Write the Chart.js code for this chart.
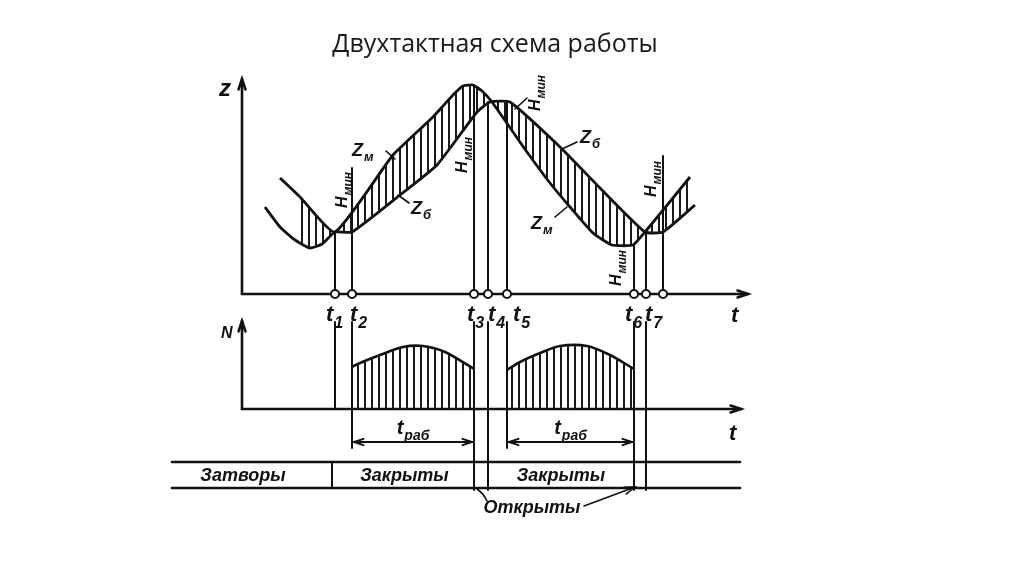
<!DOCTYPE html>
<html>
<head>
<meta charset="utf-8">
<script src="https://cdn.jsdelivr.net/npm/chart.js@4.4.0/dist/chart.umd.min.js"></script>
<style>
  html, body { margin: 0; background: #fff; }
  #wrap { width: 1024px; height: 574px; position: relative; }
</style>
</head>
<body>
<div id="wrap"><canvas id="scheme"></canvas></div>
<script>
// ===== DATA =====
const titleText = 'Двухтактная схема работы';
// moments t1..t7 (+ one unlabeled mark) on the time axis
const tMarks = [95, 112, 234, 248, 267, 394, 406, 423];
const tNames = ['1', '2', '3', '4', '5', '6', '7'];
// level z_м
const zmX = [40, 60, 95, 153, 193, 213, 223, 233, 242, 252, 287, 310, 330, 353, 372, 393, 405, 450];
const zmY = [116, 97, 62, 139, 177, 199, 208, 209, 203, 192, 142, 111, 87, 61, 49, 49, 62, 117];
// level z_б
const zbX = [25, 40, 55, 70, 82, 95, 112, 160, 197, 237, 250, 270, 320, 360, 405, 423, 455];
const zbY = [87, 67, 54, 46, 50, 62, 62, 99, 129, 182, 192, 192, 147, 106, 62, 62, 89];
// power N, two working strokes
const n1X = [112, 120, 140, 163, 183, 205, 234];
const n1Y = [42, 46, 54, 62, 63, 57, 40];
const n2X = [267, 280, 300, 320, 347, 370, 394];
const n2Y = [39, 47, 56, 63, 63, 54, 40];
// z where the vertical mark lines meet the curves
const markTop = [62, 126, 209, 192, 191, 49, 62, 138];
// gates row
const gateLabel = 'Затворы';
const gateStates = ['Закрыты', 'Открыты', 'Закрыты', 'Открыты'];
const gateFrom = [0, 2, 3, 5];   // index into tMarks
const gateTo = [2, 3, 5, 6];
const workLabel = ['t', 'раб'];
const workFrom = [1, 4];
const workTo = [2, 5];

const pts = (xs, ys) => xs.map((x, i) => ({ x: x, y: ys[i] }));

// ===== HATCH PATTERN =====
function makeHatch(step) {
    const c = document.createElement('canvas');
    c.width = step;
    c.height = 8;
    const g = c.getContext('2d');
    g.fillStyle = '#1a1a1a';
    g.fillRect(0, 0, 2, 8);
    return g.createPattern(c, 'repeat');
}
const hatch = makeHatch(7);

// ===== DRAW HELPERS =====
const FONT = '"Liberation Sans", sans-serif';

function seg(ctx, x1, y1, x2, y2) {
    ctx.beginPath();
    ctx.moveTo(x1, y1);
    ctx.lineTo(x2, y2);
    ctx.stroke();
}

function head(ctx, x1, y1, x2, y2, len) {
    const a = Math.atan2(y2 - y1, x2 - x1);
    ctx.beginPath();
    ctx.moveTo(x2 - len * Math.cos(a - 0.32), y2 - len * Math.sin(a - 0.32));
    ctx.lineTo(x2, y2);
    ctx.lineTo(x2 - len * Math.cos(a + 0.32), y2 - len * Math.sin(a + 0.32));
    ctx.stroke();
}

function arrow(ctx, x1, y1, x2, y2) {
    seg(ctx, x1, y1, x2, y2);
    head(ctx, x1, y1, x2, y2, 11);
}

function subText(ctx, main, sub, x, y, size, align) {
    ctx.font = 'italic bold ' + size + 'px ' + FONT;
    const w1 = ctx.measureText(main).width;
    const subSize = Math.round(size * 0.72);
    ctx.font = 'italic bold ' + subSize + 'px ' + FONT;
    const w2 = sub ? ctx.measureText(sub).width : 0;
    let x0 = x;
    if (align === 'center') x0 = x - (w1 + w2 + 1) / 2;
    ctx.textAlign = 'left';
    ctx.textBaseline = 'alphabetic';
    ctx.font = 'italic bold ' + size + 'px ' + FONT;
    ctx.fillText(main, x0, y);
    if (sub) {
        ctx.font = 'italic bold ' + subSize + 'px ' + FONT;
        ctx.fillText(sub, x0 + w1 + 1, y + size * 0.3);
    }
}

function rotText(ctx, main, sub, cx, cy, size) {
    ctx.save();
    ctx.translate(cx, cy);
    ctx.rotate(-Math.PI / 2);
    subText(ctx, main, sub, 0, 4, size, 'center');
    ctx.restore();
}

// ===== DECORATION PLUGIN =====
const schemeDecor = {
    id: 'schemeDecor',
    beforeDatasetsDraw(chart) {
        const { ctx, scales: { x, yz, yN } } = chart;
        const px = v => x.getPixelForValue(v);
        const pz = v => yz.getPixelForValue(v);
        const pn = v => yN.getPixelForValue(v);
        ctx.save();
        ctx.strokeStyle = '#111';
        ctx.lineCap = 'round';
        ctx.lineWidth = 2.6;
        // axes
        arrow(ctx, px(2), pz(0), px(2), pz(215));
        arrow(ctx, px(2), pz(0), px(508), pz(0));
        arrow(ctx, px(2), pn(0), px(2), pn(88));
        arrow(ctx, px(2), pn(0), px(501), pn(0));
        // vertical marks, upper panel
        ctx.lineWidth = 2;
        tMarks.forEach((t, i) => seg(ctx, px(t), pz(0), px(t), pz(markTop[i])));
        // vertical marks, lower panel
        const lowEnd = [0, -39, -81, -81, -39, -81, -81];
        tNames.forEach((n, i) => seg(ctx, px(tMarks[i]), pn(87), px(tMarks[i]), pn(lowEnd[i])));
        ctx.restore();
    },
    afterDraw(chart) {
        const { ctx, scales: { x, yz, yN } } = chart;
        const px = v => x.getPixelForValue(v);
        ctx.save();
        ctx.fillStyle = '#111';
        ctx.strokeStyle = '#111';
        ctx.lineCap = 'round';

        // axis names
        subText(ctx, 'z', '', 219, 96, 24, 'left');
        subText(ctx, 't', '', 731, 322, 22, 'left');
        subText(ctx, 'N', '', 221, 338, 16, 'left');
        subText(ctx, 't', '', 729, 440, 22, 'left');

        // moment labels
        const dx = [-9, -2, -7, 0, 6, -9, -1];
        tNames.forEach((n, i) => subText(ctx, 't', n, px(tMarks[i]) + dx[i], 321, 22, 'left'));

        // curve labels + leaders
        ctx.lineWidth = 1.6;
        subText(ctx, 'Z', 'м', 352, 156, 18, 'left');
        seg(ctx, 386, 151, 395, 159);
        subText(ctx, 'Z', 'б', 411, 214, 18, 'left');
        seg(ctx, 409, 203, 398, 195);
        subText(ctx, 'Z', 'б', 580, 143, 18, 'left');
        seg(ctx, 577, 142, 562, 149);
        subText(ctx, 'Z', 'м', 531, 229, 18, 'left');
        seg(ctx, 555, 217, 567, 207);

        // H_мин labels
        rotText(ctx, 'H', 'мин', 343, 190, 16);
        rotText(ctx, 'H', 'мин', 463, 155, 16);
        rotText(ctx, 'H', 'мин', 536, 93, 16);
        seg(ctx, 527, 98, 515, 109);
        rotText(ctx, 'H', 'мин', 617, 268, 16);
        rotText(ctx, 'H', 'мин', 652, 179, 16);

        // working time arrows
        ctx.lineWidth = 2;
        workFrom.forEach((f, i) => {
            const a = px(tMarks[f]) + 2, b = px(tMarks[workTo[i]]) - 2;
            seg(ctx, a, 442, b, 442);
            head(ctx, b, 442, a, 442, 10);
            head(ctx, a, 442, b, 442, 10);
            subText(ctx, workLabel[0], workLabel[1], (a + b) / 2, 434, 20, 'center');
        });

        // gates row
        ctx.lineWidth = 2.6;
        seg(ctx, px(-68), 462, px(500), 462);
        seg(ctx, px(-68), 488, px(500), 488);
        ctx.lineWidth = 2;
        seg(ctx, px(tMarks[0]) - 3, 462, px(tMarks[0]) - 3, 488);
        ctx.font = 'italic bold 18px ' + FONT;
        ctx.textAlign = 'center';
        ctx.textBaseline = 'middle';
        ctx.fillText(gateLabel, 243, 476);
        gateStates.forEach((s, i) => {
            if (s === 'Закрыты') {
                ctx.fillText(s, (px(tMarks[gateFrom[i]]) + px(tMarks[gateTo[i]])) / 2, 476);
            }
        });
        ctx.fillText(gateStates[1], 532, 508);
        ctx.lineWidth = 1.6;
        ctx.beginPath();
        ctx.moveTo(px(tMarks[2]) + 3, 489);
        ctx.quadraticCurveTo(px(tMarks[2]) + 10, 494, 487, 501);
        ctx.stroke();
        const oc = (px(tMarks[gateFrom[3]]) + px(tMarks[gateTo[3]])) / 2 - 5;
        arrow(ctx, 584, 506, oc, 487);
        ctx.restore();
    }
};

// ===== CHART =====
const ctx = document.getElementById('scheme');
new Chart(ctx, {
    type: 'line',
    data: {
        datasets: [
            {
                label: 'z_м',
                data: pts(zmX, zmY),
                yAxisID: 'yz',
                borderColor: '#111',
                borderWidth: 2.8,
                backgroundColor: hatch,
                fill: '+1',
                tension: 0.15,
                pointRadius: 0,
                segment: {
                    backgroundColor: c => c.p0.parsed.x < 60 ? 'rgba(0,0,0,0)' : undefined
                }
            },
            {
                label: 'z_б',
                data: pts(zbX, zbY),
                yAxisID: 'yz',
                borderColor: '#111',
                borderWidth: 2.8,
                fill: false,
                tension: 0.15,
                pointRadius: 0
            },
            {
                label: 'N1',
                data: pts(n1X, n1Y),
                yAxisID: 'yN',
                borderColor: '#111',
                borderWidth: 2.6,
                backgroundColor: hatch,
                fill: 'origin',
                tension: 0.3,
                pointRadius: 0
            },
            {
                label: 'N2',
                data: pts(n2X, n2Y),
                yAxisID: 'yN',
                borderColor: '#111',
                borderWidth: 2.6,
                backgroundColor: hatch,
                fill: 'origin',
                tension: 0.3,
                pointRadius: 0
            },
            {
                label: 'marks',
                data: tMarks.map(t => ({ x: t, y: 0 })),
                yAxisID: 'yz',
                showLine: false,
                pointRadius: 4,
                pointBackgroundColor: '#fff',
                pointBorderColor: '#111',
                pointBorderWidth: 2
            }
        ]
    },
    options: {
        responsive: true,
        maintainAspectRatio: false,
        devicePixelRatio: 1,
        animation: false,
        layout: {
            padding: { left: 240, right: 274, top: 0, bottom: 84 }
        },
        plugins: {
            legend: { display: false },
            tooltip: { enabled: false },
            title: {
                display: true,
                text: titleText,
                color: '#1a1a1a',
                font: { family: '"Open Sans", sans-serif', size: 25, weight: 'normal' },
                padding: { top: 30, bottom: 18.4 }
            }
        },
        scales: {
            x: { type: 'linear', min: 0, max: 510, display: false },
            yz: { type: 'linear', min: -196, max: 215.6, display: false },
            yN: { type: 'linear', min: -81, max: 330.6, display: false }
        }
    },
    plugins: [schemeDecor]
});
</script>
</body>
</html>
